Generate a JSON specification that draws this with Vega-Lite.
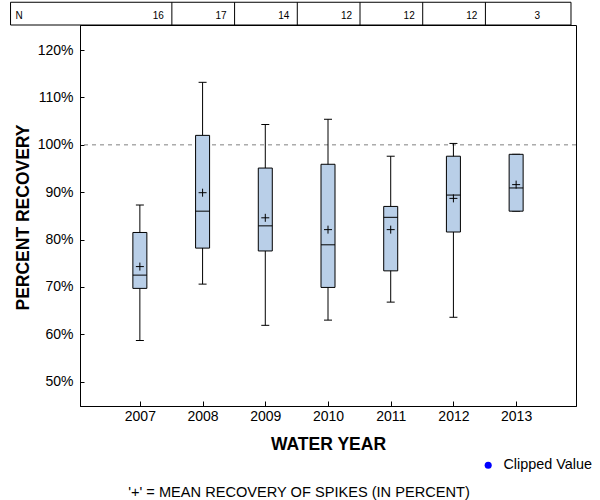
{
  "$schema": "https://vega.github.io/schema/vega-lite/v6.json",
  "width": 496,
  "height": 381,
  "autosize": {"type": "none"},
  "padding": {"left": 80, "top": 25, "right": 24, "bottom": 94},
  "config": {
    "font": "Liberation Sans",
    "view": {"stroke": "black", "strokeWidth": 1},
    "axis": {
      "grid": false,
      "domainColor": "black",
      "tickColor": "black",
      "labelColor": "black",
      "titleColor": "black",
      "labelFont": "Liberation Sans",
      "labelFontSize": 14,
      "titleFont": "Liberation Sans",
      "titleFontSize": 17.5,
      "titleFontWeight": "bold"
    },
    "legend": {"labelFont": "Liberation Sans", "labelFontSize": 14.4, "labelColor": "black"}
  },
  "title": {
    "text": "'+' = MEAN RECOVERY OF SPIKES (IN PERCENT)",
    "orient": "bottom",
    "anchor": "middle",
    "frame": "group",
    "fontSize": 14.6,
    "fontWeight": "normal",
    "font": "Liberation Sans",
    "color": "black",
    "dx": -29,
    "offset": 13
  },
  "datasets": {
    "boxes": [
      {"year": 2007, "n": 16, "lower": 58.7, "q1": 69.7, "median": 72.5, "mean": 74.3, "q3": 81.5, "upper": 87.3},
      {"year": 2008, "n": 17, "lower": 70.6, "q1": 78.2, "median": 86.0, "mean": 89.9, "q3": 102.0, "upper": 113.2},
      {"year": 2009, "n": 14, "lower": 61.9, "q1": 77.6, "median": 82.9, "mean": 84.6, "q3": 95.1, "upper": 104.3},
      {"year": 2010, "n": 12, "lower": 63.0, "q1": 69.9, "median": 78.9, "mean": 82.1, "q3": 95.9, "upper": 105.4},
      {"year": 2011, "n": 12, "lower": 66.8, "q1": 73.4, "median": 84.7, "mean": 82.1, "q3": 87.0, "upper": 97.6},
      {"year": 2012, "n": 12, "lower": 63.6, "q1": 81.6, "median": 89.4, "mean": 88.7, "q3": 97.6, "upper": 100.3},
      {"year": 2013, "n": 3, "lower": 86.0, "q1": 86.0, "median": 90.9, "mean": 91.6, "q3": 98.0, "upper": 98.0}
    ]
  },
  "data": {"name": "boxes"},
  "layer": [
    {
      "data": {"values": [{"target": 100}]},
      "mark": {"type": "rule", "color": "#808080", "strokeWidth": 1, "strokeDash": [4, 4]},
      "encoding": {
        "y": {
          "field": "target",
          "type": "quantitative",
          "scale": {"domain": [44.87, 125.3], "nice": false, "zero": false},
          "axis": {
            "values": [50, 60, 70, 80, 90, 100, 110, 120],
            "labelExpr": "datum.value + '%'",
            "tickSize": -4,
            "labelPadding": 11,
            "title": "PERCENT RECOVERY",
            "titleX": -57,
            "titleY": 192,
            "titleAngle": -90,
            "titleAlign": "center",
            "titleBaseline": "middle"
          }
        }
      }
    },
    {
      "mark": {"type": "rule", "color": "black", "strokeWidth": 1},
      "encoding": {
        "x": {
          "field": "year",
          "type": "quantitative",
          "scale": {"domain": [2006.125, 2013.875], "nice": false, "zero": false},
          "axis": {
            "values": [2007, 2008, 2009, 2010, 2011, 2012, 2013],
            "format": "d",
            "tickSize": -5,
            "labelPadding": 8,
            "title": "WATER YEAR",
            "titleY": 43,
            "titleBaseline": "alphabetic"
          }
        },
        "y": {"field": "lower", "type": "quantitative"},
        "y2": {"field": "upper"}
      }
    },
    {
      "mark": {"type": "tick", "orient": "horizontal", "color": "black", "size": 8, "thickness": 1, "opacity": 1},
      "encoding": {
        "x": {"field": "year", "type": "quantitative"},
        "y": {"field": "lower", "type": "quantitative"}
      }
    },
    {
      "mark": {"type": "tick", "orient": "horizontal", "color": "black", "size": 8, "thickness": 1, "opacity": 1},
      "encoding": {
        "x": {"field": "year", "type": "quantitative"},
        "y": {"field": "upper", "type": "quantitative"}
      }
    },
    {
      "mark": {"type": "bar", "size": 14, "fill": "#b9cfe8", "stroke": "black", "strokeWidth": 1, "opacity": 1},
      "encoding": {
        "x": {"field": "year", "type": "quantitative"},
        "y": {"field": "q1", "type": "quantitative"},
        "y2": {"field": "q3"}
      }
    },
    {
      "mark": {"type": "tick", "orient": "horizontal", "color": "black", "size": 14, "thickness": 1, "opacity": 1},
      "encoding": {
        "x": {"field": "year", "type": "quantitative"},
        "y": {"field": "median", "type": "quantitative"}
      }
    },
    {
      "mark": {"type": "point", "shape": "M-1,0H1M0,-1V1", "size": 64, "filled": false, "stroke": "black", "strokeWidth": 1, "opacity": 1},
      "encoding": {
        "x": {"field": "year", "type": "quantitative"},
        "y": {"field": "mean", "type": "quantitative"}
      }
    },
    {
      "data": {"values": [{"label": "N"}]},
      "mark": {"type": "rect", "fill": null, "fillOpacity": 0, "stroke": "black", "strokeWidth": 1, "clip": false},
      "encoding": {
        "x": {"datum": 2004.9375, "type": "quantitative"},
        "x2": {"datum": 2013.875},
        "y": {"datum": 125.3, "type": "quantitative"},
        "y2": {"datum": 130.1}
      }
    },
    {
      "data": {"values": [{"label": "N"}]},
      "mark": {"type": "text", "align": "left", "baseline": "alphabetic", "fontSize": 10, "color": "black", "dx": 5, "dy": -6, "clip": false},
      "encoding": {
        "x": {"datum": 2004.9375, "type": "quantitative"},
        "y": {"datum": 125.3, "type": "quantitative"},
        "text": {"field": "label"}
      }
    },
    {
      "transform": [{"filter": "datum.year < 2013"}],
      "mark": {"type": "rule", "color": "black", "strokeWidth": 1, "clip": false},
      "encoding": {
        "x": {"field": "year", "type": "quantitative"},
        "xOffset": {"value": 32},
        "y": {"datum": 125.3, "type": "quantitative"},
        "y2": {"datum": 130.1}
      }
    },
    {
      "mark": {"type": "text", "align": "right", "baseline": "alphabetic", "fontSize": 10, "color": "black", "dy": -6, "clip": false},
      "encoding": {
        "x": {"field": "year", "type": "quantitative"},
        "xOffset": {"condition": {"test": "datum.year == 2013", "value": 52}, "value": 24},
        "y": {"datum": 125.3, "type": "quantitative"},
        "text": {"field": "n", "type": "quantitative"}
      }
    },
    {
      "data": {"values": []},
      "mark": {"type": "point", "filled": true, "opacity": 1},
      "encoding": {
        "color": {
          "field": "status",
          "type": "nominal",
          "scale": {"domain": ["Clipped Value"], "range": ["#0000ff"]},
          "legend": {
            "title": null,
            "orient": "none",
            "legendX": 401,
            "legendY": 433,
            "padding": 0,
            "symbolType": "circle",
            "symbolSize": 50,
            "symbolStrokeWidth": 0,
            "labelOffset": 8
          }
        }
      }
    }
  ]
}
